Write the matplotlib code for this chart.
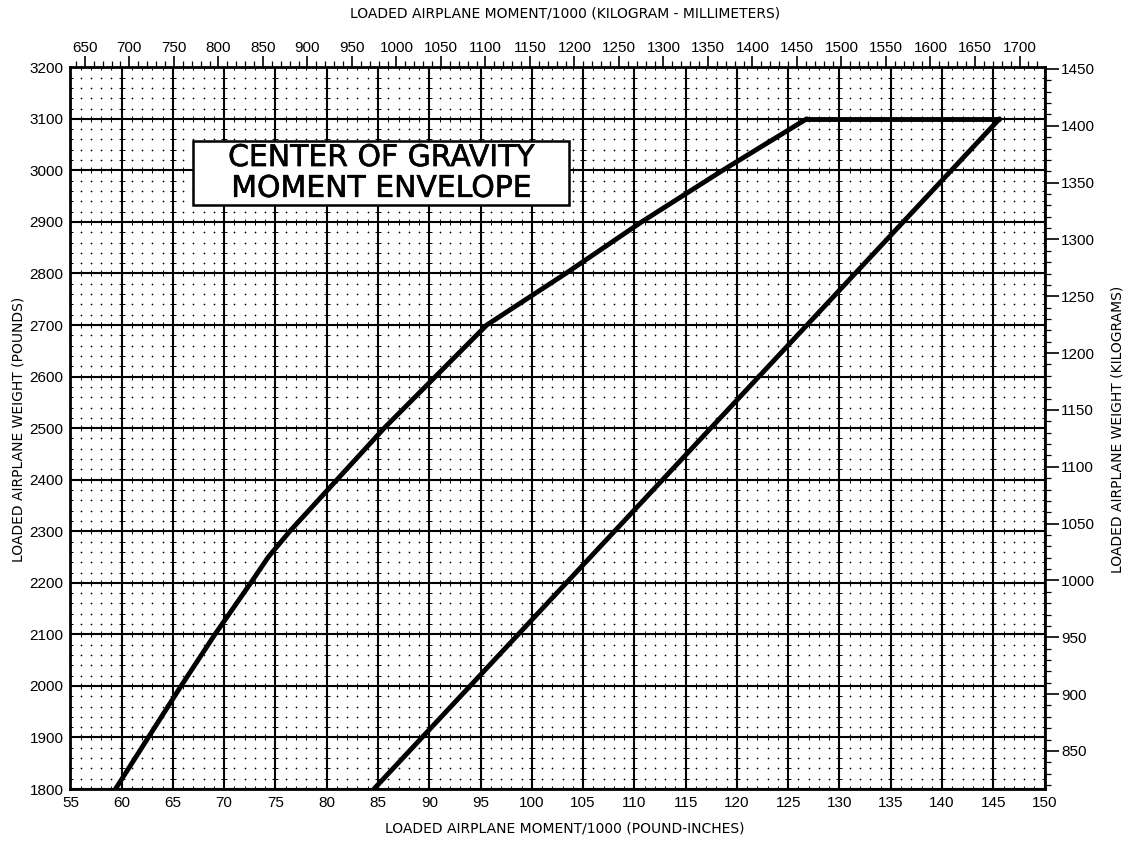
import numpy as np
import matplotlib
matplotlib.use("Agg")
import matplotlib.pyplot as plt
import matplotlib.patheffects as pe
from matplotlib.patches import Rectangle

# forward limit of the envelope (moment/1000 lb-in, weight lb)
fwd_moment = [59.4, 62.6, 65.8, 69.1, 72.6, 74.3, 76.4, 81.0, 85.6, 90.6, 95.6, 103.3, 110.7, 118.6, 126.8]
fwd_weight = [1800, 1900, 2000, 2100, 2200, 2250, 2300, 2400, 2500, 2600, 2700, 2800, 2900, 3000, 3100]

# aft limit of the envelope
aft_moment = [84.6, 145.6]
aft_weight = [1800, 3100]

# max weight line across the top
top_moment = [126.8, 145.6]
top_weight = [3100, 3100]

x_major = list(range(55, 151, 5))
y_major = list(range(1800, 3201, 100))
top_major = list(range(650, 1701, 50))
right_major = list(range(850, 1451, 50))

LBIN_TO_KGMM = 0.45359237 * 25.4
LB_TO_KG = 0.45359237

FONT = "Liberation Sans"
LABEL_FONT = "DejaVu Sans"


def draw_grid(ax):
    for x in x_major:
        ax.axvline(x, color="black", lw=1.5, zorder=1)
    for y in y_major:
        ax.axhline(y, color="black", lw=1.5, zorder=1)

    # dotted sub-grid: small crosses at every minor intersection
    xs = np.arange(55, 151, 1)
    ys = np.arange(1800, 3201, 20)
    gx, gy = np.meshgrid(xs, ys)
    gx = gx.ravel()
    gy = gy.ravel()
    on_vline = (gx % 5 == 0)
    on_hline = (gy % 100 == 0)
    inner = ~on_vline & ~on_hline
    ax.plot(gx[inner], gy[inner], "+", color="black", ms=2.0, mew=0.45, zorder=1)
    edge = on_vline ^ on_hline
    ax.plot(gx[edge], gy[edge], "+", color="black", ms=4.0, mew=0.7, zorder=1)


def main():
    fig = plt.figure(figsize=(11.31, 8.41), dpi=100)
    ax = fig.add_axes([0.0622, 0.0618, 0.8614, 0.8582])
    ax.set_xlim(55, 150)
    ax.set_ylim(1800, 3200)

    draw_grid(ax)

    ax.plot(fwd_moment, fwd_weight, color="black", lw=3.5, solid_capstyle="round", zorder=4)
    ax.plot(aft_moment, aft_weight, color="black", lw=3.5, solid_capstyle="round", zorder=4)
    ax.plot(top_moment, top_weight, color="black", lw=3.5, solid_capstyle="round", zorder=4)

    # title box
    box = Rectangle((67.0, 2933), 36.65, 124, facecolor="white", edgecolor="black",
                    lw=1.8, zorder=5)
    ax.add_patch(box)
    ax.text(85.3, 2995, "CENTER OF GRAVITY\nMOMENT ENVELOPE", ha="center", va="center",
            fontsize=21.5, family=LABEL_FONT, linespacing=1.08, zorder=6,
            path_effects=[pe.withStroke(linewidth=0.4, foreground="black")])

    for s in ax.spines.values():
        s.set_linewidth(2)
        s.set_zorder(5)

    ax.set_xticks(x_major)
    ax.set_yticks(y_major)
    ax.tick_params(axis="x", length=0, pad=5, labelsize=11)
    ax.tick_params(axis="y", length=0, pad=5, labelsize=11)
    for lab in ax.get_xticklabels() + ax.get_yticklabels():
        lab.set_family(FONT)

    # kilogram-millimeter scale on top
    secx = ax.secondary_xaxis("top", functions=(lambda m: m * LBIN_TO_KGMM, lambda k: k / LBIN_TO_KGMM))
    secx.set_xticks(top_major)
    secx.set_xticks(list(range(640, 1731, 10)), minor=True)
    secx.tick_params(which="major", length=8, width=1.2, pad=1, labelsize=11)
    secx.tick_params(which="minor", length=4, width=0.9)
    for lab in secx.get_xticklabels():
        lab.set_family(FONT)
    secx.spines["top"].set_visible(False)

    # kilograms on the right
    secy = ax.secondary_yaxis("right", functions=(lambda w: w * LB_TO_KG, lambda k: k / LB_TO_KG))
    secy.set_yticks(right_major)
    secy.set_yticks(list(range(820, 1452, 10)), minor=True)
    secy.tick_params(which="major", length=10, width=1.2, pad=2, labelsize=11)
    secy.tick_params(which="minor", length=4, width=0.9)
    for lab in secy.get_yticklabels():
        lab.set_family(FONT)
    secy.spines["right"].set_visible(False)

    fig.text(0.4995, 0.006, "LOADED AIRPLANE MOMENT/1000 (POUND-INCHES)", ha="center", va="bottom",
             fontsize=10, family=LABEL_FONT)
    fig.text(0.4995, 0.992, "LOADED AIRPLANE MOMENT/1000 (KILOGRAM - MILLIMETERS)", ha="center",
             va="top", fontsize=10, family=LABEL_FONT)
    fig.text(0.016, 0.49, "LOADED AIRPLANE WEIGHT (POUNDS)", rotation=90, ha="center", va="center",
             fontsize=10, family=LABEL_FONT)
    fig.text(0.988, 0.49, "LOADED AIRPLANE WEIGHT (KILOGRAMS)", rotation=90, ha="center", va="center",
             fontsize=10, family=LABEL_FONT)

    fig.savefig("out.png", dpi=100)


if __name__ == "__main__":
    main()
